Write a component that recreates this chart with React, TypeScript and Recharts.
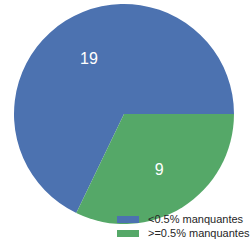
import { PieChart, Pie, Cell, Legend } from 'recharts';

const categories = ['<0.5% manquantes', '>=0.5% manquantes'];
const counts = [19, 9];
const colors = ['#4C72B0', '#55A868'];

const data = categories.map((name, i) => ({ name, value: counts[i] }));

const RADIAN = Math.PI / 180;

const renderLabel = ({ cx, cy, midAngle, outerRadius, value }: any) => {
  const r = outerRadius * 0.6;
  const x = cx + r * Math.cos(-midAngle * RADIAN);
  const y = cy + r * Math.sin(-midAngle * RADIAN);
  return (
    <text x={x} y={y} fill="#ffffff" fontSize={16} textAnchor="middle" dominantBaseline="central">
      {value}
    </text>
  );
};

const CustomLegend = () => (
  <div>
    {categories.map((name, i) => (
      <div key={name} style={{ display: 'flex', alignItems: 'center', height: 14 }}>
        <span style={{ width: 22, height: 7, background: colors[i], marginRight: 9 }} />
        <span style={{ fontSize: 11, color: '#262626' }}>{name}</span>
      </div>
    ))}
  </div>
);

export default function App() {
  return (
    <div style={{ position: 'fixed', left: 0, top: 0, width: 252, height: 246, background: '#fff', fontFamily: '"Liberation Sans", Arial, sans-serif' }}>
      <PieChart width={252} height={246} margin={{ top: 0, right: 0, bottom: 0, left: 0 }}>
        <Pie
          data={data}
          dataKey="value"
          nameKey="name"
          cx={124}
          cy={114}
          outerRadius={110}
          startAngle={0}
          endAngle={360}
          stroke="none"
          label={renderLabel}
          labelLine={false}
          isAnimationActive={false}
        >
          {data.map((d, i) => (
            <Cell key={d.name} fill={colors[i]} />
          ))}
        </Pie>
        <Legend
          content={<CustomLegend />}
          wrapperStyle={{ position: 'absolute', left: 117, top: 212, width: 135 }}
        />
      </PieChart>
    </div>
  );
}
